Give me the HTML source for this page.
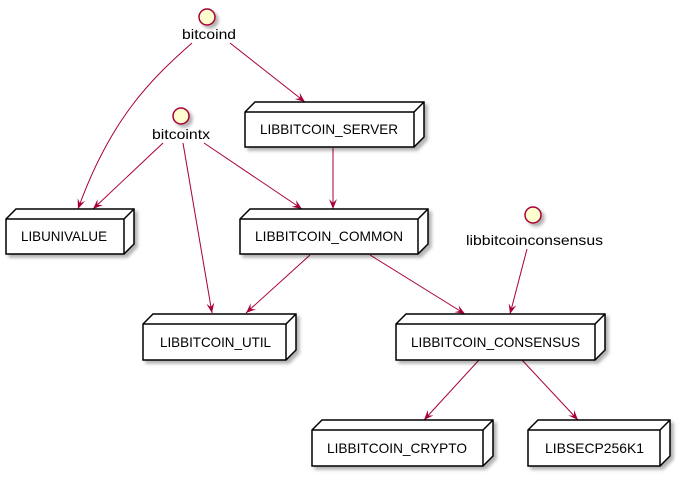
<!DOCTYPE html>
<html><head><meta charset="utf-8"><style>
html,body{margin:0;padding:0;background:#fff;width:691px;height:477px;overflow:hidden}
text{font-family:"Liberation Sans",sans-serif;font-size:14px;fill:#000}
</style></head><body>
<svg width="691" height="477" viewBox="0 0 691 477" xmlns="http://www.w3.org/2000/svg">
<defs>
<marker id="a" markerWidth="12" markerHeight="10" refX="10" refY="4" orient="auto" markerUnits="userSpaceOnUse">
<path d="M0,0 L10,4 L0,8 L4,4 Z" fill="#A80036"/>
</marker>
<filter id="s" x="-10%" y="-10%" width="130%" height="140%"><feDropShadow dx="3" dy="3" stdDeviation="1.5" flood-color="#000" flood-opacity="0.3"/></filter>
</defs>
<g fill="none" stroke="#A80036" stroke-width="1" marker-end="url(#a)">
<path d="M192,43 C150,80 110,120 78,209"/>
<path d="M230,43 L305,102"/>
<path d="M163,143 L93,209"/>
<path d="M183,143 L212,313"/>
<path d="M204,143 L302,209"/>
<path d="M333,148 L333,209"/>
<path d="M310,255 L246,313"/>
<path d="M370,255 L465,314"/>
<path d="M527,249 L510,314"/>
<path d="M479,360 L424,420"/>
<path d="M522,360 L578,420"/>
</g>
<g fill="#FEFECE" stroke="#A80036" stroke-width="1.5" filter="url(#s)">
<circle cx="207" cy="17" r="8"/>
<circle cx="181" cy="116" r="8"/>
<circle cx="533" cy="215" r="8"/>
</g>
<text x="182" y="39" textLength="54" lengthAdjust="spacingAndGlyphs">bitcoind</text>
<text x="152" y="139" textLength="58" lengthAdjust="spacingAndGlyphs">bitcointx</text>
<text x="466" y="245" textLength="137" lengthAdjust="spacingAndGlyphs">libbitcoinconsensus</text>
<g fill="#fff" stroke="#000" stroke-width="1.5">
<g filter="url(#s)">
<path d="M6,219 L16,209 L134,209 L134,244 L124,254 L6,254 Z"/>
<path d="M245,112 L255,102 L424,102 L424,137 L414,147 L245,147 Z"/>
<path d="M240,219 L250,209 L428,209 L428,244 L418,254 L240,254 Z"/>
<path d="M143,324 L153,314 L296,314 L296,350 L286,360 L143,360 Z"/>
<path d="M396,324 L406,314 L605,314 L605,350 L595,360 L396,360 Z"/>
<path d="M312,430 L322,420 L493,420 L493,456 L483,466 L312,466 Z"/>
<path d="M528,430 L538,420 L670,420 L670,456 L660,466 L528,466 Z"/>
</g>
<path d="M6,219 L124,219 L134,209 M124,219 L124,254" fill="none"/>
<path d="M245,112 L414,112 L424,102 M414,112 L414,147" fill="none"/>
<path d="M240,219 L418,219 L428,209 M418,219 L418,254" fill="none"/>
<path d="M143,324 L286,324 L296,314 M286,324 L286,360" fill="none"/>
<path d="M396,324 L595,324 L605,314 M595,324 L595,360" fill="none"/>
<path d="M312,430 L483,430 L493,420 M483,430 L483,466" fill="none"/>
<path d="M528,430 L660,430 L670,420 M660,430 L660,466" fill="none"/>
</g>
<text x="21" y="241" textLength="86" lengthAdjust="spacingAndGlyphs">LIBUNIVALUE</text>
<text x="260" y="134" textLength="138" lengthAdjust="spacingAndGlyphs">LIBBITCOIN_SERVER</text>
<text x="255" y="241" textLength="148" lengthAdjust="spacingAndGlyphs">LIBBITCOIN_COMMON</text>
<text x="160" y="347" textLength="111" lengthAdjust="spacingAndGlyphs">LIBBITCOIN_UTIL</text>
<text x="411" y="347" textLength="169" lengthAdjust="spacingAndGlyphs">LIBBITCOIN_CONSENSUS</text>
<text x="327" y="453" textLength="140" lengthAdjust="spacingAndGlyphs">LIBBITCOIN_CRYPTO</text>
<text x="545" y="453" textLength="99" lengthAdjust="spacingAndGlyphs">LIBSECP256K1</text>
</svg>
</body></html>
